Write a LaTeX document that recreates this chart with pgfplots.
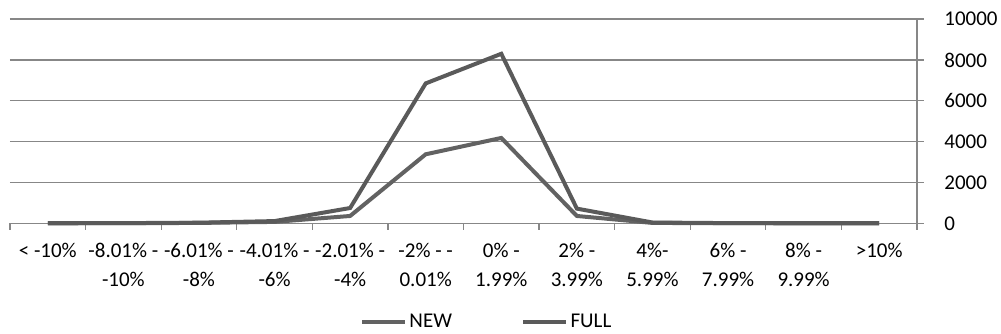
\documentclass[border=0pt]{standalone}
\usepackage{pgfplots}
\pgfplotsset{compat=1.18}
\usepackage{fontspec}
\setmainfont{Carlito}

\definecolor{gridgray}{HTML}{878787}
\definecolor{fullgray}{HTML}{5A5A5A}
\definecolor{newgray}{HTML}{626262}

\pgfplotstableread{
idx full new
0   5    3
1   10   5
2   30   20
3   110  70
4   750  360
5   6850 3380
6   8300 4180
7   720  360
8   40   20
9   10   5
10  5    3
11  5    3
}\returns

\begin{document}
\begin{tikzpicture}
\useasboundingbox (-7.5pt,-83pt) rectangle (743.25pt,167.5pt);
\begin{axis}[
  at={(0,0)}, anchor=south west,
  scale only axis,
  width=680.25pt, height=153.2pt,
  xmin=-0.5, xmax=11.5,
  ymin=0, ymax=10000,
  axis x line*=bottom,
  axis y line*=right,
  axis line style={draw=gridgray, line width=0.9pt, -},
  xtick={0,...,11},
  xticklabels={
    {< -10\%},
    {-8.01\% -\\-10\%},
    {-6.01\% -\\-8\%},
    {-4.01\% -\\-6\%},
    {-2.01\% -\\-4\%},
    {-2\% - -\\0.01\%},
    {0\% -\\1.99\%},
    {2\% -\\3.99\%},
    {4\%-\\5.99\%},
    {6\% -\\7.99\%},
    {8\% -\\9.99\%},
    {>10\%}},
  major x tick style={draw=none},
  minor xtick={-0.5,0.5,...,11.5},
  minor x tick style={draw=gridgray, line width=0.9pt},
  minor tick length=5pt,
  tick align=outside,
  xticklabel style={align=center, anchor=north, yshift=-6pt,
    font=\fontsize{15.75}{22}\selectfont},
  ytick={0,2000,...,10000},
  scaled y ticks=false,
  major y tick style={draw=gridgray, line width=0.9pt},
  major tick length=5pt,
  yticklabel style={anchor=west, xshift=12pt,
    font=\fontsize{15.75}{19}\selectfont},
  /pgf/number format/assume math mode=true,
  /pgf/number format/1000 sep={},
  ymajorgrids,
  grid style={draw=gridgray, line width=0.9pt},
  legend columns=2,
  legend style={at={(0.526,-0.483)}, anchor=center, draw=none, fill=none,
    font=\fontsize{15.75}{19}\selectfont,
    /tikz/every even column/.append style={column sep=50pt}},
  legend image code/.code={\draw[#1] (0pt,0pt) -- (32pt,0pt);},
  clip=false,
]
\addplot[newgray, line width=3pt, line join=miter] table[x=idx, y=new] {\returns};
\addlegendentry{NEW}
\addplot[fullgray, line width=3pt, line join=miter] table[x=idx, y=full] {\returns};
\addlegendentry{FULL}
\end{axis}
\end{tikzpicture}
\end{document}
